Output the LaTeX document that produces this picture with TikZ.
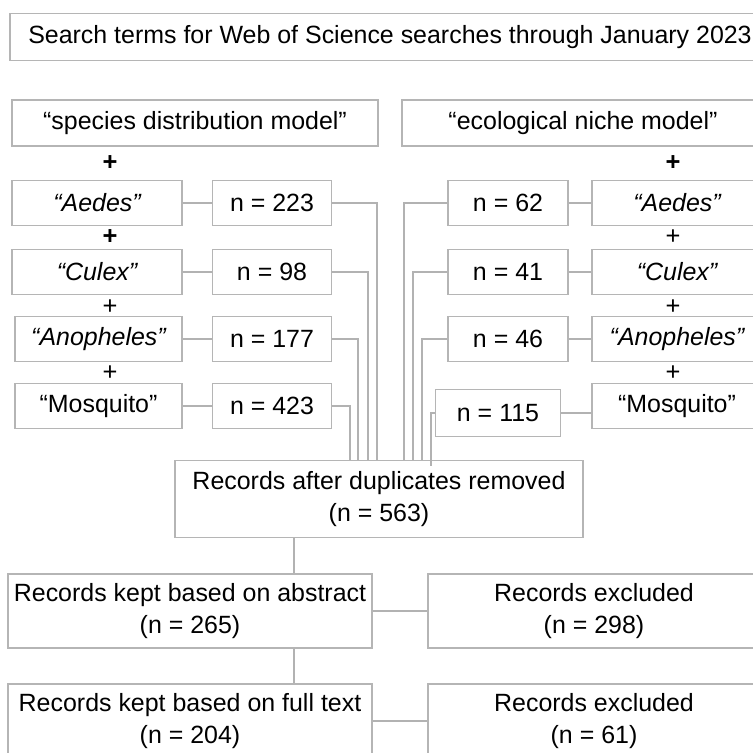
\documentclass[tikz,border=0pt]{standalone}
\usepackage{fontspec}
\setmainfont{Liberation Sans}
\usetikzlibrary{calc}
\newcommand{\px}{0.02cm}

\begin{document}
\begin{tikzpicture}[x=0.02cm,y=-0.02cm,
  box/.style={draw=gray!95!black!55,line width=1.1pt,inner sep=0pt,align=center,
    font=\fontsize{14.2}{18}\selectfont},
  link/.style={draw=gray!90!black!55,line width=0.8pt},
  plus/.style={inner sep=0pt,font=\fontsize{14.5}{14}\selectfont}]
\useasboundingbox (0,0) rectangle (753,753);
\node[box,minimum width=760*\px,minimum height=47*\px] (title) at (390,37) {Search terms for Web of Science searches through January 2023};
\node[box,minimum width=366*\px,minimum height=46*\px] (sdm) at (195,123) {“species distribution model”};
\node[box,minimum width=362*\px,minimum height=46*\px] (enm) at (583,123) {“ecological niche model”};
\node[plus,font=\fontsize{14.5}{14}\selectfont\bfseries] (pl1) at (110,163) {+};
\node[plus,font=\fontsize{14.5}{14}\selectfont\bfseries] (pl2) at (110,237) {+};
\node[plus] (pl3) at (110,307) {+};
\node[plus] (pl4) at (110,373) {+};
\node[plus,font=\fontsize{14.5}{14}\selectfont\bfseries] (pr1) at (673,163) {+};
\node[plus] (pr2) at (673,237) {+};
\node[plus] (pr3) at (673,307) {+};
\node[plus] (pr4) at (673,373) {+};
\node[box,minimum width=170*\px,minimum height=45*\px] (aedesL) at (97,203) {\itshape “Aedes”};
\node[box,minimum width=170*\px,minimum height=45*\px] (culexL) at (97,272) {\itshape “Culex”};
\node[box,minimum width=167*\px,minimum height=45*\px] (anophL) at (98.5,339) {\itshape “Anopheles”};
\node[box,minimum width=167*\px,minimum height=45*\px] (mosqL) at (98.5,406) {“Mosquito”};
\node[box,minimum width=119*\px,minimum height=45*\px] (n223) at (272,203) {n = 223};
\node[box,minimum width=119*\px,minimum height=45*\px] (n98) at (272,272) {n = 98};
\node[box,minimum width=119*\px,minimum height=45*\px] (n177) at (272,339) {n = 177};
\node[box,minimum width=119*\px,minimum height=45*\px] (n423) at (272,406) {n = 423};
\node[box,minimum width=120*\px,minimum height=45*\px] (n62) at (508,203) {n = 62};
\node[box,minimum width=120*\px,minimum height=45*\px] (n41) at (508,272) {n = 41};
\node[box,minimum width=120*\px,minimum height=45*\px] (n46) at (508,339) {n = 46};
\node[box,minimum width=125*\px,minimum height=47*\px] (n115) at (498,413) {n = 115};
\node[box,minimum width=170*\px,minimum height=45*\px] (aedesR) at (677,203) {\itshape “Aedes”};
\node[box,minimum width=170*\px,minimum height=45*\px] (culexR) at (677,272) {\itshape “Culex”};
\node[box,minimum width=170*\px,minimum height=45*\px] (anophR) at (677,339) {\itshape “Anopheles”};
\node[box,minimum width=170*\px,minimum height=45*\px] (mosqR) at (677,406) {“Mosquito”};
\node[box,minimum width=408*\px,minimum height=77*\px] (dup) at (379,499) {Records after duplicates removed\\(n = 563)};
\node[box,minimum width=364*\px,minimum height=74*\px] (abs) at (190,611) {Records kept based on abstract\\(n = 265)};
\node[box,minimum width=332*\px,minimum height=74*\px] (exc1) at (594,611) {Records excluded\\(n = 298)};
\node[box,minimum width=364*\px,minimum height=74*\px] (full) at (190,721) {Records kept based on full text\\(n = 204)};
\node[box,minimum width=332*\px,minimum height=74*\px] (exc2) at (594,721) {Records excluded\\(n = 61)};
\draw[link] (aedesL) -- (n223);
\draw[link] (culexL) -- (n98);
\draw[link] (anophL) -- (n177);
\draw[link] (mosqL) -- (n423);
\draw[link] (n62) -- (aedesR);
\draw[link] (n41) -- (culexR);
\draw[link] (n46) -- (anophR);
\draw[link] (n115.east) -- (n115.east -| mosqR.west);
\draw[link] (n223.east) -| ($(dup.north)+(-2,0)$);
\draw[link] (n98.east) -| ($(dup.north)+(-11,0)$);
\draw[link] (n177.east) -| ($(dup.north)+(-21,0)$);
\draw[link] (n423.east) -| ($(dup.north)+(-29,0)$);
\draw[link] (n62.west) -| ($(dup.north)+(25,0)$);
\draw[link] (n41.west) -| ($(dup.north)+(34,0)$);
\draw[link] (n46.west) -| ($(dup.north)+(43,0)$);
\draw[link] (n115.west) -| ($(dup.north)+(52,6)$);
\draw[link] (dup.south -| 294,0) -- (abs.north -| 294,0);
\draw[link] (abs) -- (exc1);
\draw[link] (abs.south -| 294,0) -- (full.north -| 294,0);
\draw[link] (full) -- (exc2);
\end{tikzpicture}
\end{document}
